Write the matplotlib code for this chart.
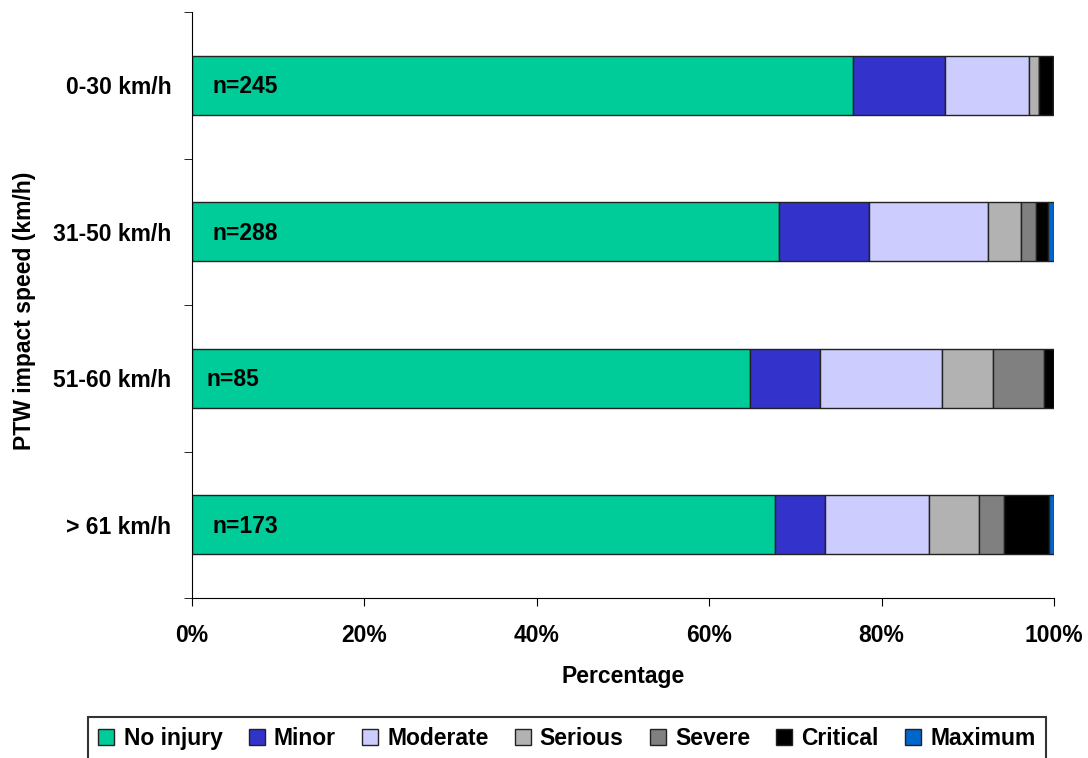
import matplotlib.pyplot as plt
import numpy as np

plt.rcParams['font.family'] = ['Liberation Sans', 'DejaVu Sans']
plt.rcParams['font.weight'] = 'bold'

# speed classes (top to bottom)
speeds = ["0-30 km/h", "31-50 km/h", "51-60 km/h", "> 61 km/h"]
n_cases = [245, 288, 85, 173]

# share of each injury level, percent
no_injury = [76.7, 68.1, 64.7, 67.6]
minor = [10.6, 10.4, 8.2, 5.8]
moderate = [9.8, 13.9, 14.1, 12.1]
serious = [1.2, 3.8, 5.9, 5.8]
severe = [0.0, 1.7, 5.9, 2.9]
critical = [1.6, 1.4, 1.2, 5.2]
maximum = [0.0, 0.7, 0.0, 0.6]

levels = ["No injury", "Minor", "Moderate", "Serious", "Severe", "Critical", "Maximum"]
colors = ["#00CC99", "#3333CC", "#CCCCFF", "#B2B2B2", "#808080", "#000000", "#0066CC"]
series = [no_injury, minor, moderate, serious, severe, critical, maximum]

fs = 16.5

fig = plt.figure(figsize=(10.88, 7.58), dpi=100)
ax = fig.add_axes([192 / 1088, 1 - 598 / 758, 862 / 1088, 586 / 758])

y = np.arange(len(speeds))
left = np.zeros(len(speeds))
for name, vals, c in zip(levels, series, colors):
    vals = np.array(vals)
    ax.barh(y, vals, left=left, height=0.4, color=c, edgecolor="#222222",
            linewidth=1, label=name)
    left += vals

for yi, n in zip(y, n_cases):
    ax.text(2.4 if n >= 100 else 1.7, yi + 0.01, f"n={n}", va="center", ha="left",
            fontsize=fs, fontweight="bold")

ax.set_xlim(0, 100)
ax.set_ylim(3.5, -0.5)
ax.set_xticks(np.arange(0, 101, 20))
ax.set_xticklabels([f"{v}%" for v in range(0, 101, 20)], fontsize=fs, fontweight="bold")
ax.set_yticks(y)
ax.set_yticklabels(speeds, fontsize=fs, fontweight="bold")
ax.tick_params(axis="y", length=0, pad=15)
ax.set_yticks(np.arange(-0.5, 4, 1), minor=True)
ax.tick_params(axis="y", which="minor", length=6, direction="out")
ax.tick_params(axis="x", length=6, direction="out", pad=13)
ax.spines["top"].set_visible(False)
ax.spines["right"].set_visible(False)

ax.set_xlabel("Percentage", fontsize=fs, fontweight="bold", labelpad=13)
ax.set_ylabel("PTW impact speed (km/h)", fontsize=fs, fontweight="bold")
ax.yaxis.set_label_coords(-0.181, 0.49)

leg = fig.legend(loc="upper center", bbox_to_anchor=(0.521, 1 - 717 / 758), ncol=7,
                 fontsize=fs, frameon=True, fancybox=False, edgecolor="black",
                 handlelength=0.7, handleheight=0.7, handletextpad=0.4,
                 columnspacing=1.14, borderpad=0.45, borderaxespad=0)
leg.get_frame().set_linewidth(1.5)

fig.savefig("out.png", dpi=100)
